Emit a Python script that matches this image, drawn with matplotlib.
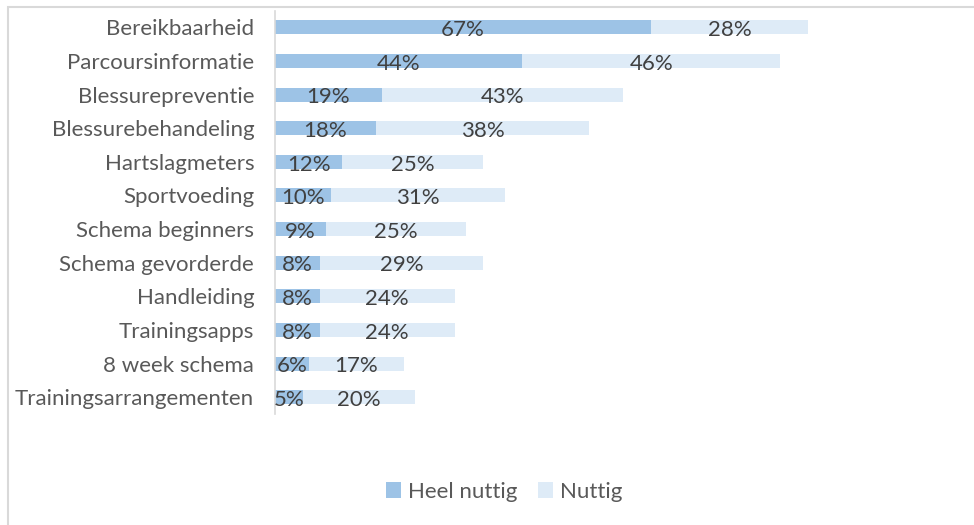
import matplotlib
matplotlib.use("Agg")
import matplotlib.pyplot as plt
from matplotlib.patches import Rectangle

categories = [
    "Bereikbaarheid", "Parcoursinformatie", "Blessurepreventie",
    "Blessurebehandeling", "Hartslagmeters", "Sportvoeding",
    "Schema beginners", "Schema gevorderde", "Handleiding",
    "Trainingsapps", "8 week schema", "Trainingsarrangementen",
]
heel_nuttig = [67, 44, 19, 18, 12, 10, 9, 8, 8, 8, 6, 5]
nuttig = [28, 46, 43, 38, 25, 31, 25, 29, 24, 24, 17, 20]

plt.rcParams["font.family"] = ["Lato", "DejaVu Sans"]

W, H = 974, 525
fig = plt.figure(figsize=(W / 100, H / 100), dpi=100)
ax = fig.add_axes([275 / W, 1 - 414 / H, 561.5 / W, 403.5 / H])

y = list(range(len(categories)))
c1, c2 = "#9DC3E6", "#DEEBF7"
b1 = ax.barh(y, heel_nuttig, height=0.42, color=c1, label="Heel nuttig")
b2 = ax.barh(y, nuttig, left=heel_nuttig, height=0.42, color=c2, label="Nuttig")

for bars in (b1, b2):
    for r in bars:
        ax.text(r.get_x() + r.get_width() / 2, r.get_y() + r.get_height() / 2 + 0.08,
                f"{int(r.get_width())}%", ha="center", va="center",
                fontsize=16, color="#404040")

ax.set_xlim(0, 100)
ax.set_ylim(len(categories) - 0.5, -0.5)
ax.set_yticks(y)
ax.set_yticklabels(categories, fontsize=16, color="#595959")
ax.tick_params(axis="y", length=0, pad=15)
ax.set_xticks([])
for s in ["top", "right", "bottom"]:
    ax.spines[s].set_visible(False)
ax.spines["left"].set_color("#D9D9D9")
ax.spines["left"].set_linewidth(1.2)

fig.legend(handles=[b1, b2], loc="center", bbox_to_anchor=(504 / W, 1 - 492 / H),
           ncol=2, frameon=False, fontsize=16, labelcolor="#595959",
           handlelength=0.7, handleheight=0.7, handletextpad=0.3, columnspacing=0.9)

# chart border
fig.patches.append(Rectangle((8 / W, -0.1), 1.2, 1 - 7.5 / H + 0.1, transform=fig.transFigure,
                             fill=False, edgecolor="#D9D9D9", linewidth=1.5))

fig.savefig("out.png", dpi=100)
